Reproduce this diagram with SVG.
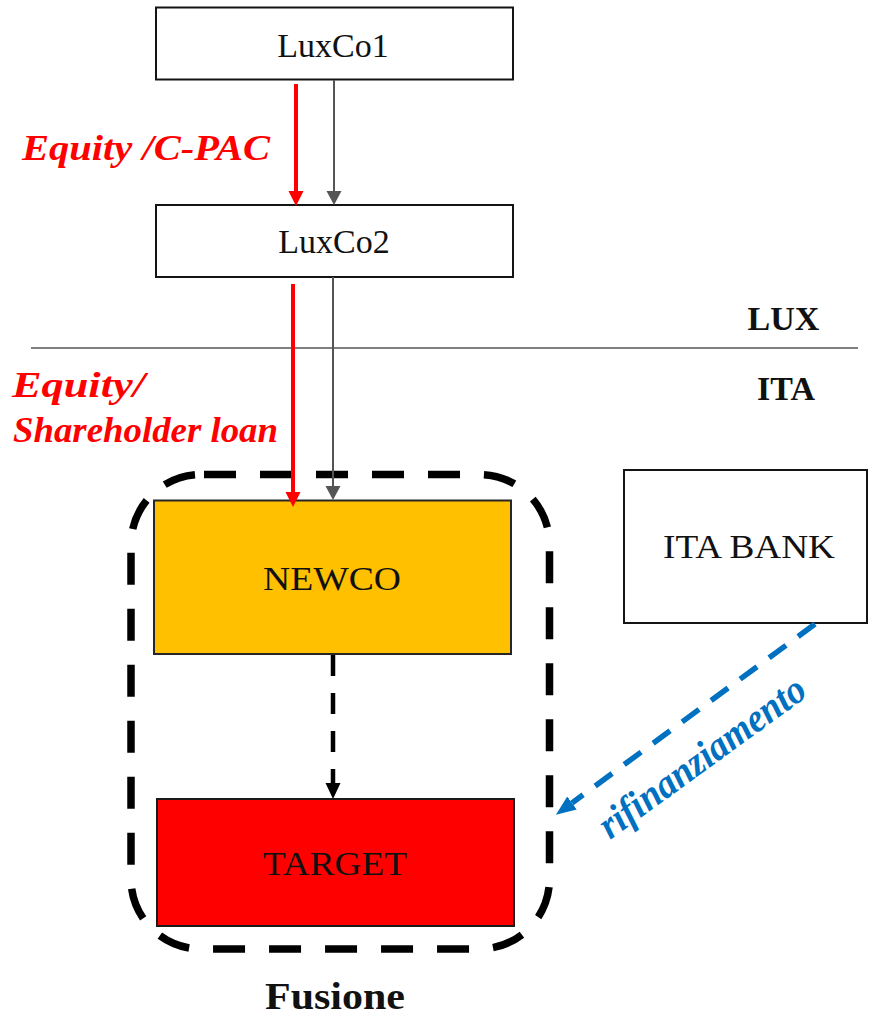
<svg xmlns="http://www.w3.org/2000/svg" width="869" height="1017" viewBox="0 0 869 1017">
  <style>
    .box { fill: #ffffff; stroke: #141414; stroke-width: 2; }
    .name { font-family: "Liberation Serif", "Times New Roman", serif; font-size: 34px; fill: #111111; text-anchor: middle; }
    .zone { font-family: "Liberation Serif", "Times New Roman", serif; font-size: 34px; font-weight: bold; fill: #111111; text-anchor: middle; }
    .flow { font-family: "Liberation Serif", "Times New Roman", serif; font-size: 35px; font-weight: bold; font-style: italic; fill: #ff0000; }
    .red { stroke: #ff0000; stroke-width: 4; fill: none; }
    .gray { stroke: #555555; stroke-width: 2; fill: none; }
  </style>
  <defs>
    <marker id="head-red" markerUnits="userSpaceOnUse" markerWidth="16" markerHeight="16" refX="0" refY="7.5" orient="auto">
      <path d="M0,0 L15,7.5 L0,15 z" fill="#ff0000"/>
    </marker>
    <marker id="head-gray" markerUnits="userSpaceOnUse" markerWidth="16" markerHeight="16" refX="0" refY="7.5" orient="auto">
      <path d="M0,0 L14,7.5 L0,15 z" fill="#555555"/>
    </marker>
    <marker id="head-black" markerUnits="userSpaceOnUse" markerWidth="17" markerHeight="16" refX="0" refY="7.5" orient="auto">
      <path d="M0,0 L16,7.5 L0,15 z" fill="#000000"/>
    </marker>
    <marker id="head-blue" markerUnits="userSpaceOnUse" markerWidth="21" markerHeight="18" refX="0" refY="8" orient="auto">
      <path d="M0,0 L20,8 L0,16 z" fill="#0070c0"/>
    </marker>
  </defs>

  <rect width="869" height="1017" fill="#ffffff"/>

  <!-- LUX / ITA border -->
  <g id="border">
    <line x1="31" y1="348" x2="858" y2="348" stroke="#7f7f7f" stroke-width="2"/>
    <text class="zone" x="783.5" y="330">LUX</text>
    <text class="zone" x="786" y="400">ITA</text>
  </g>

  <!-- merger perimeter -->
  <g id="fusione">
    <rect x="131" y="474.5" width="418.5" height="474.5" rx="70" ry="70" fill="none" stroke="#000000" stroke-width="7.5" stroke-dasharray="32 24" stroke-dashoffset="53"/>
    <text x="335" y="1009" font-family="'Liberation Serif', 'Times New Roman', serif" font-size="37" font-weight="bold" fill="#111111" text-anchor="middle" textLength="140" lengthAdjust="spacingAndGlyphs">Fusione</text>
  </g>

  <g id="luxco1">
    <rect class="box" x="156" y="7.5" width="357" height="72"/>
    <text class="name" x="333" y="57">LuxCo1</text>
  </g>

  <g id="luxco2">
    <rect class="box" x="156" y="205" width="357" height="72"/>
    <text class="name" x="334" y="253">LuxCo2</text>
  </g>

  <g id="newco">
    <rect x="154" y="500.5" width="357" height="153.5" fill="#ffc000" stroke="#262626" stroke-width="2"/>
    <text class="name" x="332" y="590" textLength="138" lengthAdjust="spacingAndGlyphs">NEWCO</text>
  </g>

  <g id="target">
    <rect x="157" y="799" width="357" height="127" fill="#ff0000" stroke="#1a1a1a" stroke-width="2"/>
    <text class="name" x="335" y="875" textLength="144" lengthAdjust="spacingAndGlyphs">TARGET</text>
  </g>

  <g id="ita-bank">
    <rect class="box" x="624" y="470" width="243" height="153"/>
    <text class="name" x="749" y="558" textLength="172" lengthAdjust="spacingAndGlyphs">ITA BANK</text>
  </g>

  <g id="connectors">
    <line class="red" x1="296" y1="84" x2="296" y2="191" marker-end="url(#head-red)"/>
    <line class="gray" x1="334" y1="80" x2="334" y2="191" marker-end="url(#head-gray)"/>
    <line class="red" x1="293" y1="284" x2="293" y2="492" marker-end="url(#head-red)"/>
    <line class="gray" x1="333" y1="277" x2="333" y2="486" marker-end="url(#head-gray)"/>
    <line x1="333" y1="655" x2="333" y2="783" stroke="#000000" stroke-width="4.5" stroke-dasharray="21 17" marker-end="url(#head-black)"/>
    <line x1="815" y1="624" x2="572" y2="803" stroke="#0070c0" stroke-width="5.5" stroke-dasharray="21 15" marker-end="url(#head-blue)"/>
  </g>

  <g id="labels">
    <text class="flow" x="22" y="160" textLength="248" lengthAdjust="spacingAndGlyphs">Equity /C-PAC</text>
    <text class="flow" x="12" y="397" textLength="133" lengthAdjust="spacingAndGlyphs">Equity/</text>
    <text class="flow" x="13" y="442" textLength="265" lengthAdjust="spacingAndGlyphs">Shareholder loan</text>
    <text transform="translate(610,840) rotate(-36)" font-family="'Liberation Serif', 'Times New Roman', serif" font-size="40" font-weight="bold" font-style="italic" fill="#0070c0" textLength="246" lengthAdjust="spacingAndGlyphs">rifinanziamento</text>
  </g>
</svg>
